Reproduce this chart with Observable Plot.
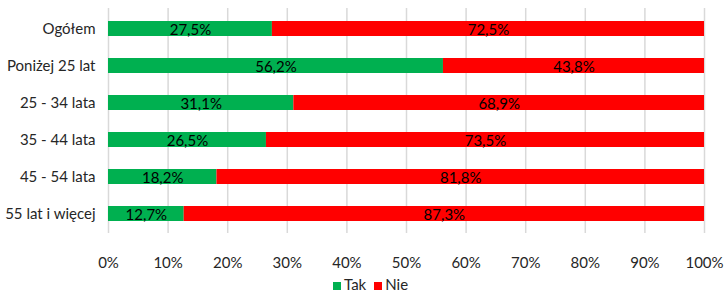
<!DOCTYPE html>
<html><head><meta charset="utf-8">
<script src="https://cdn.jsdelivr.net/npm/d3@7"></script>
<script src="https://cdn.jsdelivr.net/npm/@observablehq/plot@0.6"></script>
<style>
body{margin:0;background:#fff;font-family:Lato,"Open Sans",sans-serif;}
#legend{display:flex;gap:8px;padding-left:333px;font-size:15px;color:#262626;height:21px;align-items:center;margin-top:3px;}
#legend span.sw{display:inline-block;width:8px;height:8px;margin-right:3px;}
</style></head><body>
<div id="chart"></div>
<div id="legend"></div>
<script>
const categories = ["Ogółem","Poniżej 25 lat","25 - 34 lata","35 - 44 lata","45 - 54 lata","55 lat i więcej"];
const tak = [27.5,56.2,31.1,26.5,18.2,12.7];
const nie = [72.5,43.8,68.9,73.5,81.8,87.3];
const seriesNames = ["Tak","Nie"];
const colors = ["#00B050","#FF0000"];
const xTicks = [0,10,20,30,40,50,60,70,80,90,100];

const data = [];
categories.forEach((c,i)=>{
  data.push({cat:c, s:"Tak", v:tak[i]});
  data.push({cat:c, s:"Nie", v:nie[i]});
});
const fmt = v => v.toFixed(1).replace(".",",") + "%";

const plot = Plot.plot({
  width:724, height:270,
  marginLeft:108, marginRight:20, marginTop:8, marginBottom:37,
  style:{fontFamily:"Lato, 'Open Sans', sans-serif", fontSize:"15px", color:"#262626"},
  x:{domain:[0,100], ticks:xTicks, tickFormat:d=>d+"%", label:null, tickSize:0, tickPadding:24},
  y:{domain:categories, paddingInner:0.6, paddingOuter:0.3, label:null, tickSize:0, tickPadding:13},
  color:{domain:seriesNames, range:colors},
  marks:[
    Plot.gridX(xTicks,{stroke:"#d9d9d9", strokeOpacity:1, strokeWidth:1.5}),
    Plot.barX(data, Plot.stackX({x:"v", y:"cat", fill:"s", order:seriesNames})),
    Plot.text(data, Plot.stackX({x:"v", y:"cat", z:"s", order:seriesNames, text:d=>fmt(d.v), fill:"#000", fontSize:15, dy:1})),
    Plot.axisX({ticks:xTicks, tickFormat:d=>d+"%", tickSize:0, tickPadding:24, fontSize:15}),
    Plot.axisY({tickSize:0, tickPadding:13, fontSize:15})
  ]
});
document.getElementById("chart").appendChild(plot);
const lg = document.getElementById("legend");
seriesNames.forEach((n,i)=>{
  const d=document.createElement("div");
  d.innerHTML=`<span class="sw" style="background:${colors[i]}"></span>${n}`;
  lg.appendChild(d);
});
</script>
</body></html>
